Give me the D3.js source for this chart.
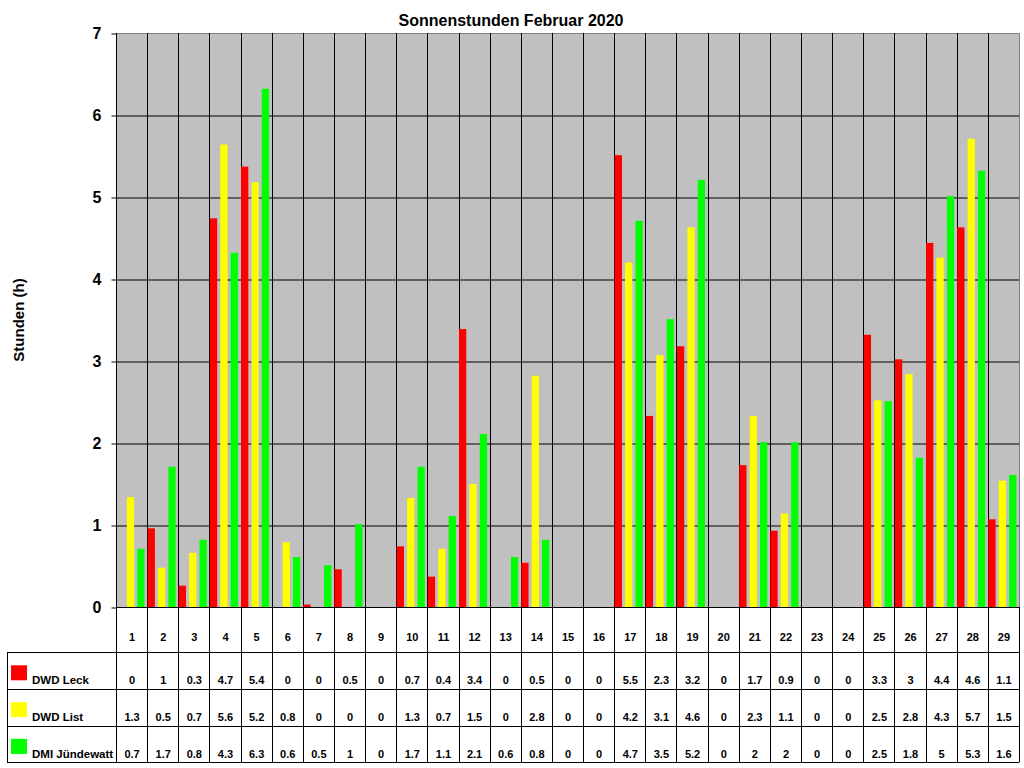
<html>
<head>
  <meta charset="utf-8">
  <title>Sonnenstunden Februar 2020</title>
  <style>
    body { margin: 0; background: #fff; }
    text { font-family: "Liberation Sans", Arial, sans-serif; font-weight: bold; }
  </style>
</head>
<body>
<script src="https://cdn.jsdelivr.net/npm/d3@7"></script>
<script>
 // values
 var days = ["1","2","3","4","5","6","7","8","9","10","11","12","13","14","15",
             "16","17","18","19","20","21","22","23","24","25","26","27","28","29"];
 var seriesNames = ["DWD Leck", "DWD List", "DMI Jündewatt"];
 var seriesColors = ["#ff0000", "#ffff00", "#00ff00"];
 var leck = [0, 0.96, 0.26, 4.74, 5.37, 0, 0.03, 0.46, 0, 0.74, 0.37, 3.39, 0, 0.54, 0,
             0, 5.51, 2.33, 3.18, 0, 1.73, 0.93, 0, 0, 3.32, 3.02, 4.44, 4.63, 1.07];
 var list = [1.34, 0.48, 0.66, 5.64, 5.18, 0.79, 0, 0, 0, 1.33, 0.71, 1.5, 0, 2.82, 0,
             0, 4.2, 3.07, 4.63, 0, 2.33, 1.14, 0, 0, 2.52, 2.84, 4.26, 5.71, 1.54];
 var juende = [0.71, 1.71, 0.82, 4.32, 6.32, 0.61, 0.51, 1.01, 0, 1.71, 1.11, 2.11, 0.61, 0.82, 0,
               0, 4.71, 3.51, 5.21, 0, 2.01, 2.01, 0, 0, 2.51, 1.82, 5.01, 5.32, 1.61];
 var yTicks = [0, 1, 2, 3, 4, 5, 6, 7];

 var series = [leck, list, juende];

 var W = 1024, H = 768;
 var pLeft = 116, pRight = 1019, pTop = 33, pBottom = 607;
 var tableTop = 652, rowH = 36.8, tableLeft = 7;
 var tableBottom = tableTop + 3 * rowH;

 var svg = d3.select("body").append("svg")
     .attr("width", W).attr("height", H);

 var x = d3.scaleBand().domain(days).range([pLeft, pRight]);
 var inner = d3.scaleBand().domain(d3.range(3)).range([0, x.bandwidth()])
     .paddingInner(0.3).paddingOuter(0.15).align(0);
 var y = d3.scaleLinear().domain([0, 7]).range([pBottom, pTop]);

 // plot background
 svg.append("rect")
    .attr("x", pLeft).attr("y", pTop)
    .attr("width", pRight - pLeft).attr("height", pBottom - pTop)
    .style("fill", "#c0c0c0");

 // horizontal grid
 svg.append("g")
    .attr("transform", "translate(" + pLeft + ",0.5)")
    .call(d3.axisLeft(y).tickValues(yTicks.slice(1, 7)).tickSize(-(pRight - pLeft)).tickFormat(""))
    .call(function(g){ g.select(".domain").remove(); })
    .selectAll("line").style("stroke", "#000");

 // top and right border (grey)
 svg.append("line").attr("x1", pLeft).attr("x2", pRight).attr("y1", pTop + 0.5).attr("y2", pTop + 0.5)
    .style("stroke", "#808080");
 svg.append("line").attr("x1", pRight + 0.5).attr("x2", pRight + 0.5).attr("y1", pTop).attr("y2", pBottom)
    .style("stroke", "#808080");

 // vertical column lines through plot and table
 var cuts = days.map(function(d){ return x(d); });
 svg.selectAll("line.col").data(cuts.slice(1)).enter().append("line")
    .attr("class", "col")
    .attr("x1", function(d){ return Math.round(d) + 0.5; })
    .attr("x2", function(d){ return Math.round(d) + 0.5; })
    .attr("y1", pTop).attr("y2", tableBottom)
    .style("stroke", "#000");

 // bars
 var bars = svg.append("g");
 series.forEach(function(vals, s) {
     bars.selectAll("rect.s" + s).data(vals).enter().append("rect")
         .attr("class", "s" + s)
         .attr("x", function(d, i){ return x(days[i]) + inner(s) + 0.5; })
         .attr("y", function(d){ return y(d); })
         .attr("width", inner.bandwidth())
         .attr("height", function(d){ return y(0) - y(d); })
         .style("fill", seriesColors[s]);
 });

 // y axis
 var yAxis = svg.append("g")
    .attr("transform", "translate(" + (pLeft + 0.5) + ",0.5)")
    .call(d3.axisLeft(y).tickValues(yTicks).tickSize(5).tickPadding(10).tickFormat(d3.format("d")));
 yAxis.select(".domain").remove();
 yAxis.selectAll("line").style("stroke", "#000");
 yAxis.selectAll("text").style("font-size", "16px").style("fill", "#000");

 // axis line at zero, left line, right border in table
 svg.append("line").attr("x1", pLeft).attr("x2", pRight).attr("y1", pBottom + 0.5).attr("y2", pBottom + 0.5)
    .style("stroke", "#000");
 svg.append("line").attr("x1", pLeft + 0.5).attr("x2", pLeft + 0.5).attr("y1", pTop).attr("y2", tableBottom)
    .style("stroke", "#000");
 svg.append("line").attr("x1", pRight + 0.5).attr("x2", pRight + 0.5).attr("y1", pBottom).attr("y2", tableBottom)
    .style("stroke", "#000");

 // table rows
 d3.range(4).forEach(function(r) {
     var yy = Math.round(tableTop + r * rowH) + 0.5;
     svg.append("line").attr("x1", tableLeft).attr("x2", pRight).attr("y1", yy).attr("y2", yy)
        .style("stroke", "#000");
 });
 svg.append("line").attr("x1", tableLeft + 0.5).attr("x2", tableLeft + 0.5)
    .attr("y1", tableTop).attr("y2", tableBottom).style("stroke", "#000");

 // day labels
 svg.selectAll("text.day").data(days).enter().append("text")
    .attr("class", "day")
    .attr("x", function(d){ return x(d) + x.bandwidth() / 2 + 0.5; })
    .attr("y", 641)
    .attr("text-anchor", "middle")
    .style("font-size", "11px")
    .text(function(d){ return d; });

 function fmt(v) { return String(Math.round(v * 10) / 10); }

 series.forEach(function(vals, s) {
     var base = tableTop + (s + 1) * rowH - 4.5;
     svg.selectAll("text.v" + s).data(vals).enter().append("text")
        .attr("class", "v" + s)
        .attr("x", function(d, i){ return x(days[i]) + x.bandwidth() / 2 + 0.5; })
        .attr("y", base)
        .attr("text-anchor", "middle")
        .style("font-size", "11px")
        .text(function(d){ return fmt(d); });
     svg.append("rect")
        .attr("x", 11).attr("y", base - 19)
        .attr("width", 16).attr("height", 15)
        .style("fill", seriesColors[s]);
     svg.append("text")
        .attr("x", 32).attr("y", base)
        .style("font-size", "11.5px")
        .text(seriesNames[s]);
 });

 // titles
 svg.append("text")
    .attr("x", 511).attr("y", 26)
    .attr("text-anchor", "middle")
    .style("font-size", "16px")
    .text("Sonnenstunden Februar 2020");
 svg.append("text")
    .attr("transform", "translate(24," + ((pTop + pBottom) / 2) + ") rotate(-90)")
    .attr("text-anchor", "middle")
    .style("font-size", "15px")
    .text("Stunden (h)");
</script>
</body>
</html>
